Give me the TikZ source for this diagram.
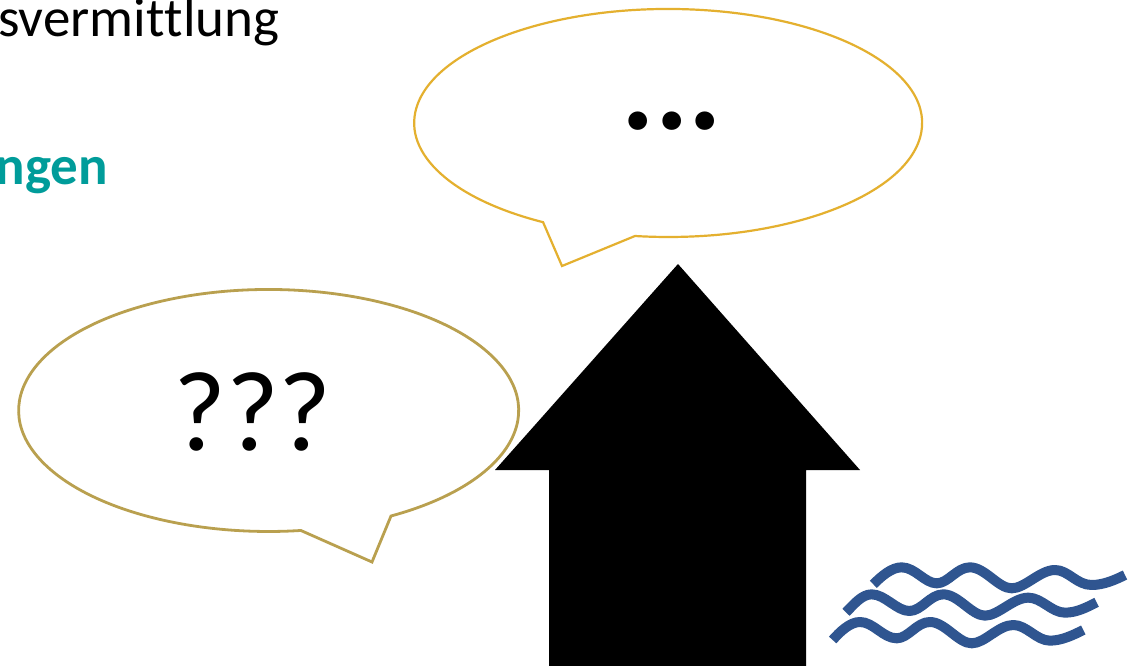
\documentclass[tikz,border=0pt]{standalone}
\usepackage{fontspec}
\setmainfont{Carlito}
\definecolor{goldA}{HTML}{E4B02F}
\definecolor{goldB}{HTML}{B9A04F}
\definecolor{teal2}{HTML}{009C9A}
\definecolor{wave}{HTML}{2F5590}
\tikzset{
  bubbleA/.style={draw=goldA,line width=2.2pt,fill=white,line join=miter},
  bubbleB/.style={draw=goldB,line width=2.8pt,fill=white,line join=miter},
  wavy/.style={draw=wave,line width=10pt,line cap=butt,line join=round},
}
\begin{document}
\begin{tikzpicture}[x=1pt,y=1pt]
\useasboundingbox (0,0) rectangle (1133,665);
\clip (0,0) rectangle (1133,665);
\fill[white] (0,0) rectangle (1133,665);
\node[anchor=base east,inner sep=0pt,font=\fontsize{55}{60}\selectfont] (t1) at (279.5,628) {svermit\kern0pt tlung};
\node[anchor=base east,inner sep=0pt,text=teal2,font=\fontsize{55}{60}\selectfont\bfseries] (t2) at (108,480.5) {ngen};
% upper bubble
\draw[bubbleA] (635,429) arc[start angle=-97.5,end angle=240.5,x radius=254,y radius=114] -- (562,399) -- cycle;
\node[anchor=base,inner sep=0pt,font=\fontsize{125}{130}\selectfont\bfseries] (d) at (672,535) {...};
% left bubble
\draw[bubbleB] (391,149) arc[start angle=-60.7,end angle=277.4,x radius=250,y radius=121] -- (372,103) -- cycle;
\node[anchor=base,inner sep=0pt,font=\fontsize{114}{120}\selectfont] (q) at (252.5,215) {???};
% arrow
\fill[black] (678,401) -- (860,195) -- (806,195) -- (806,-2) -- (549,-2) -- (549,195) -- (495,195) -- cycle;
% waves
\begin{scope}[shift={(820,115)},x=.3333pt,y=-.3333pt]
\draw[wavy] (160,103) .. controls (185,78) and (215,52) .. (245,52)
 .. controls (285,52) and (315,100) .. (350,100)
 .. controls (385,100) and (410,52) .. (450,52)
 .. controls (495,52) and (535,115) .. (575,115)
 .. controls (615,115) and (660,60) .. (705,60)
 .. controls (745,60) and (770,105) .. (815,105)
 .. controls (850,105) and (885,90) .. (915,75);
\draw[wavy] (78,187) .. controls (100,165) and (125,133) .. (155,133)
 .. controls (195,133) and (230,183) .. (268,183)
 .. controls (305,183) and (330,133) .. (370,133)
 .. controls (415,133) and (455,197) .. (495,197)
 .. controls (535,197) and (580,143) .. (625,143)
 .. controls (665,143) and (695,188) .. (735,188)
 .. controls (770,188) and (800,172) .. (830,157);
\draw[wavy] (38,270) .. controls (60,245) and (90,216) .. (120,216)
 .. controls (160,216) and (190,265) .. (230,265)
 .. controls (265,265) and (290,216) .. (330,216)
 .. controls (375,216) and (415,280) .. (455,280)
 .. controls (495,280) and (535,225) .. (580,225)
 .. controls (620,225) and (650,272) .. (690,272)
 .. controls (725,272) and (760,255) .. (790,240);
\end{scope}
\end{tikzpicture}
\end{document}
